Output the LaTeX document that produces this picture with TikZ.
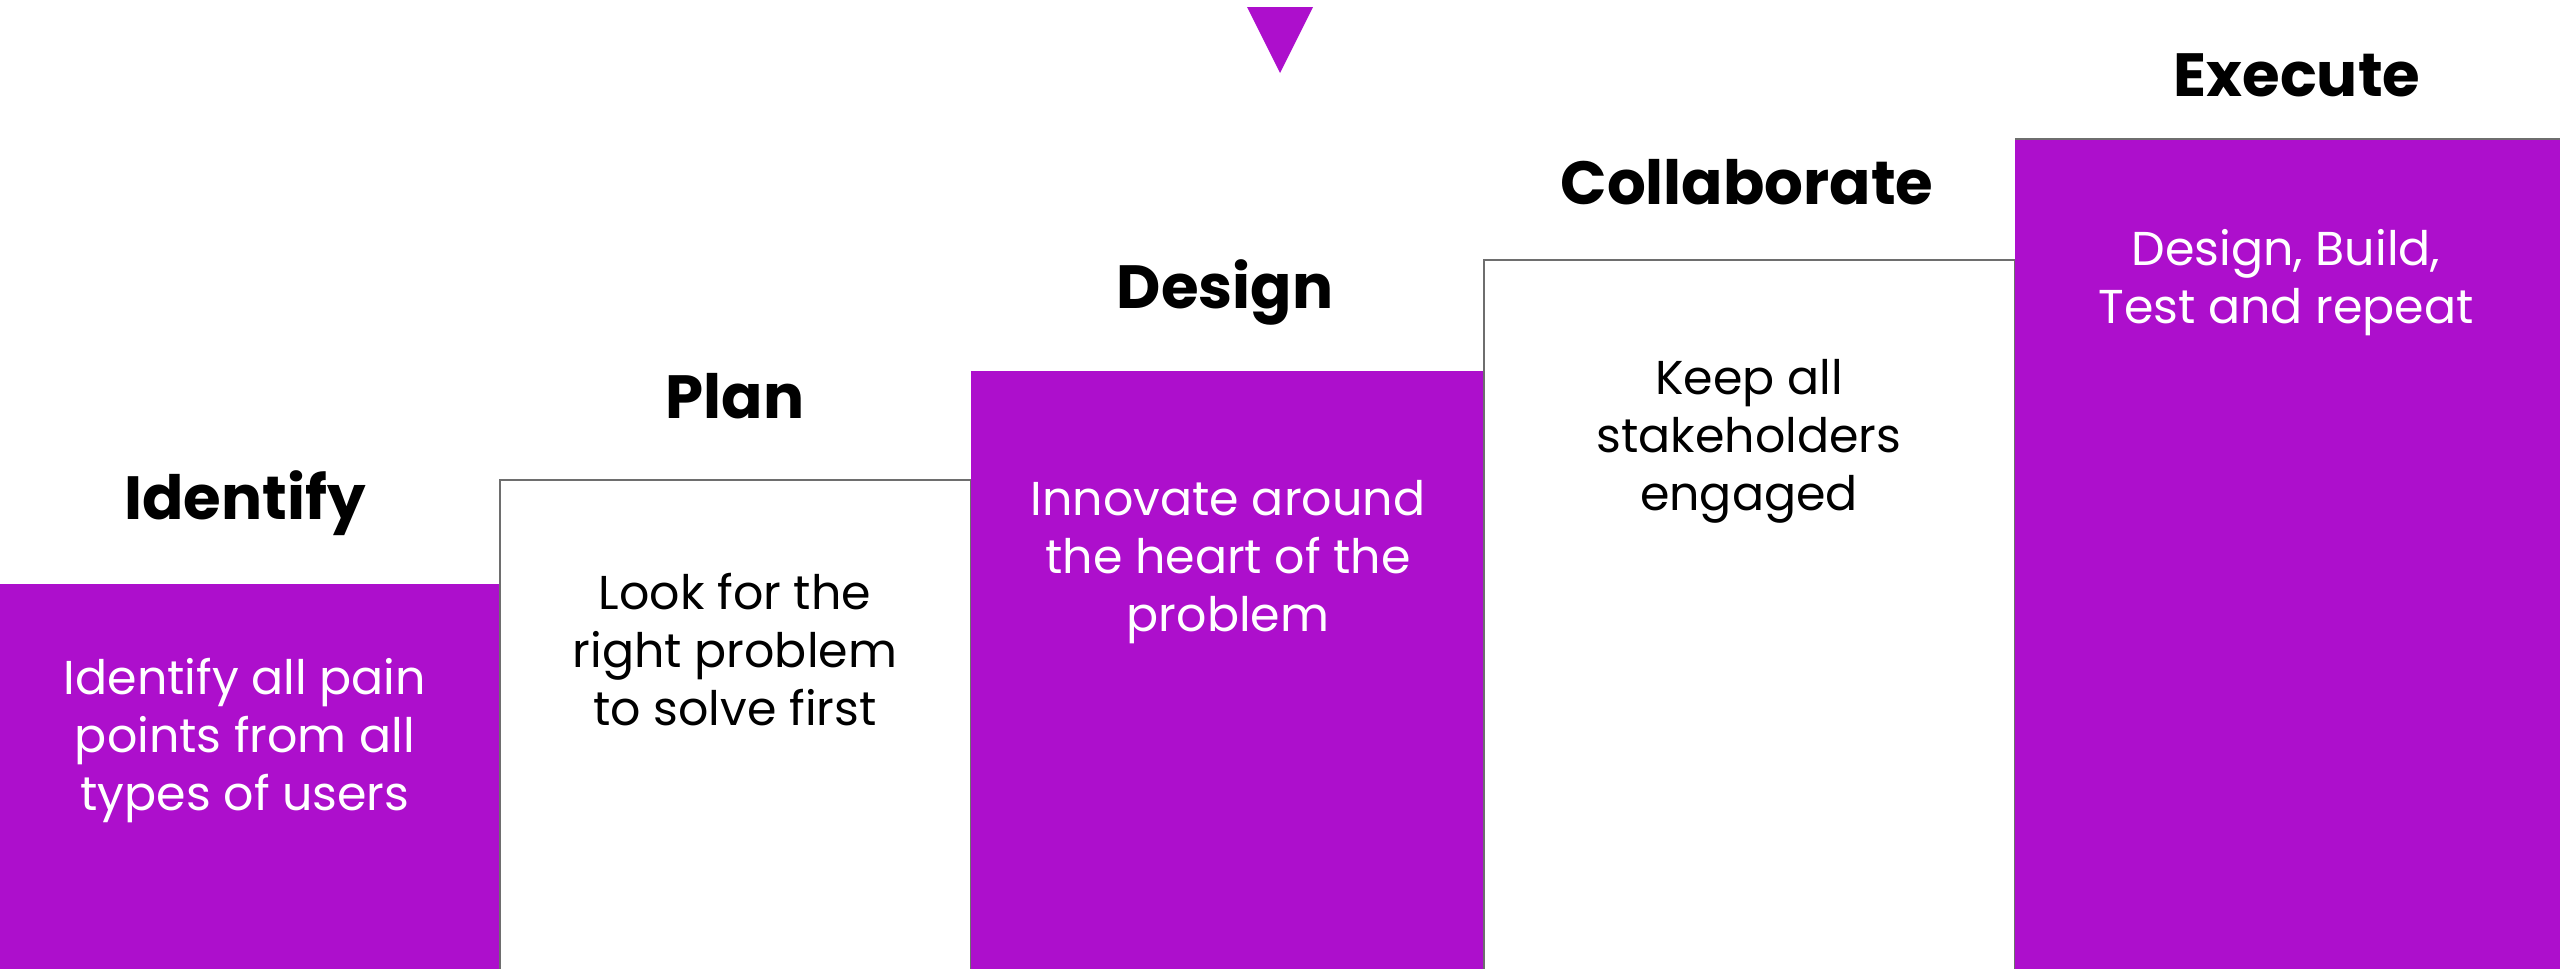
\documentclass[tikz,border=0pt]{standalone}
\usepackage{fontspec}
\setmainfont{Poppins}
\definecolor{brand}{RGB}{173,15,204}
\definecolor{edge}{RGB}{110,110,110}
\tikzset{
  purplebox/.style={fill=brand, draw=none, inner sep=0pt, outer sep=0pt, anchor=north west},
  whitebox/.style={fill=white, draw=edge, line width=2pt, inner sep=0pt, outer sep=0pt, anchor=north west},
  steptitle/.style={font=\fontsize{61}{68}\selectfont\bfseries, text=black, anchor=center, inner sep=0pt},
  bodywhite/.style={font=\fontsize{47.5}{58}\selectfont, text=white, align=center, anchor=center, inner sep=0pt},
  bodyblack/.style={font=\fontsize{47.5}{58}\selectfont, text=black, align=center, anchor=center, inner sep=0pt}
}
\begin{document}
\begin{tikzpicture}[x=1pt,y=-1pt]
\useasboundingbox (0,0) rectangle (2560,969);
\fill[white] (0,0) rectangle (2560,969);
% boxes
\node[purplebox, minimum width=500pt, minimum height=386pt] (b1) at (0,584) {};
\node[whitebox, minimum width=471pt, minimum height=490pt] (b2) at (500,480) {};
\node[purplebox, minimum width=513pt, minimum height=599pt] (b3) at (971,371) {};
\node[whitebox, minimum width=531pt, minimum height=710pt] (b4) at (1484,260) {};
\node[purplebox, minimum width=546pt, minimum height=831pt] (b5) at (2015,139) {};
\draw[edge, line width=2pt] (b5.north west) -- (b5.north east);
% titles
\node[steptitle] (t1) at (245,503) {Identify};
\node[steptitle] (t2) at (735,396) {Plan};
\node[steptitle] (t3) at (1225,292) {Design};
\node[steptitle] (t4) at (1747,182) {Collaborate};
\node[steptitle] (t5) at (2297,75) {Execute};
% body texts
\node[bodywhite] (d1) at (245,741) {Identify all pain\\points from all\\types of users};
\node[bodyblack] (d2) at (735,650) {Look for the\\right problem\\to solve first};
\node[bodywhite] (d3) at (1228,562) {Innovate around\\the heart of the\\problem};
\node[bodyblack] (d4) at (1749,441) {Keep all\\stakeholders\\engaged};
\node[bodywhite] (d5) at (2286,283) {Design, Build,\\Test and repeat};
% marker
\fill[brand] (1247,7) -- (1313,7) -- (1280,73) -- cycle;
\end{tikzpicture}
\end{document}
